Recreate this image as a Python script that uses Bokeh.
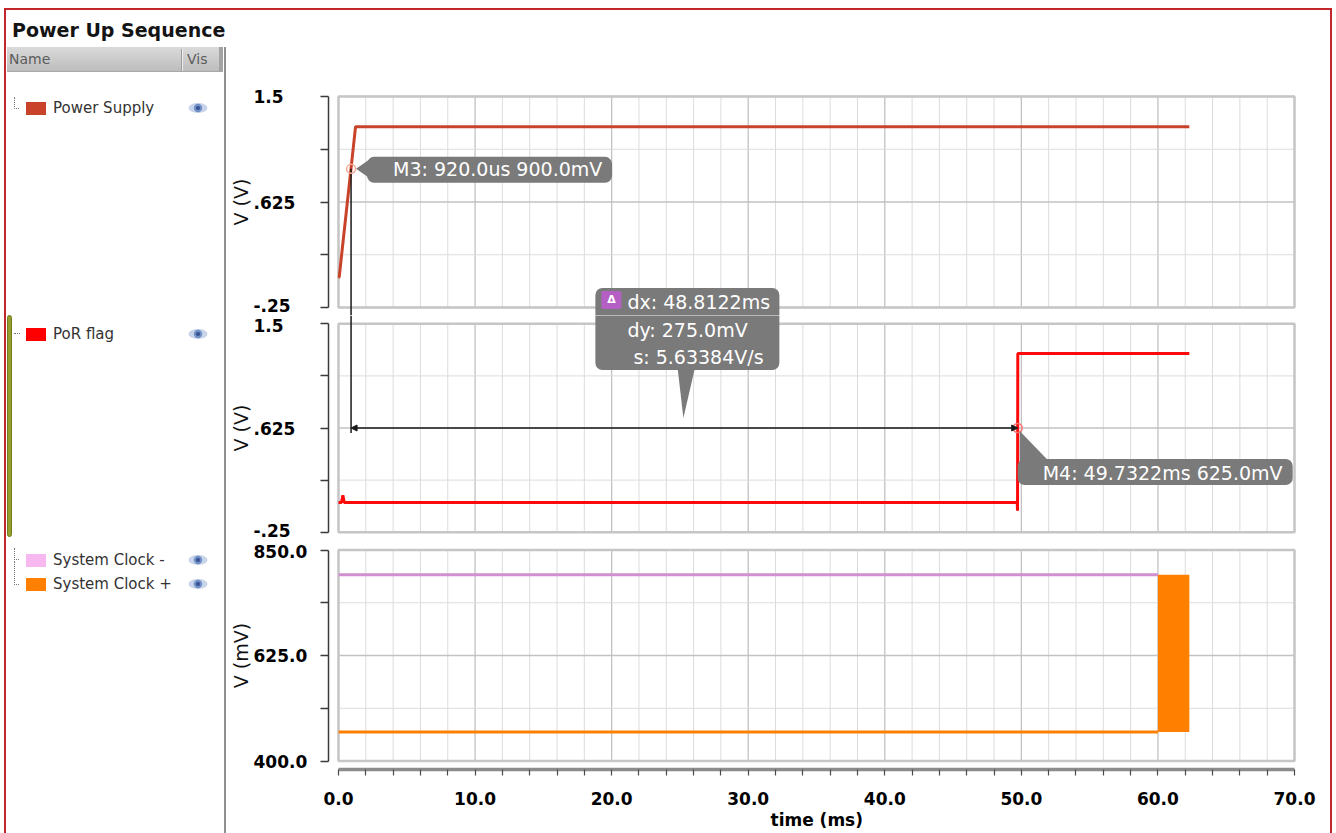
from bokeh.plotting import figure
from bokeh.models import (Range1d, FixedTicker, Label, BoxAnnotation, Arrow,
                          NormalHead, Div, Title)
from bokeh.layouts import row, column
from bokeh.embed import file_html
from bokeh.resources import INLINE

# ---------------- waveform data (time in ms) ----------------
supply_t = [0.0, 0.05, 1.25, 62.3]
supply_v = [0.0, 0.0, 1.25, 1.25]

por_t = [0.0, 0.22, 0.32, 0.42, 49.70, 49.72, 49.74, 62.3]
por_v = [0.0, 0.0, 0.06, 0.0, 0.0, -0.07, 1.25, 1.25]

clk_n_t = [0.0, 60.0]
clk_n_mv = [797.0, 797.0]
clk_p_t = [0.0, 60.0]
clk_p_mv = [462.0, 462.0]
# differential clock running: drawn as its swing envelope
burst_t = [60.0, 62.3]
burst_lo_mv = [462.0, 462.0]
burst_hi_mv = [797.0, 797.0]

# markers
m3_t, m3_v = 0.92, 0.900      # ms, V
m4_t, m4_v = 49.7322, 0.625   # ms, V

# ticks
grid_t = list(range(0, 71, 2))
x_tick_vals = [0, 10, 20, 30, 40, 50, 60, 70]
x_tick_labels = ["0.0", "10.0", "20.0", "30.0", "40.0", "50.0", "60.0", "70.0"]

v_ticks = [-0.25, 0.1875, 0.625, 1.0625, 1.5]
v_tick_vals = [-0.25, 0.625, 1.5]
v_tick_labels = ["-.25", ".625", "1.5"]

mv_ticks = [400.0, 512.5, 625.0, 737.5, 850.0]
mv_tick_vals = [400.0, 625.0, 850.0]
mv_tick_labels = ["400.0", "625.0", "850.0"]

legend_names = ["Power Supply", "PoR flag", "System Clock -", "System Clock +"]
legend_colors = ["#c8432a", "#ff0000", "#f7b7ef", "#ff8000"]

SUPPLY_COLOR = "#c8432a"
POR_COLOR = "#ff0a0a"
CLKN_COLOR = "#d08fce"
CLKP_COLOR = "#ff8000"
CALLOUT = "#7a7a7a"
FONT = "DejaVu Sans"

# ---------------- layout geometry ----------------
PX_PER_MS = 956.0 / 70.0
FIG_W, BORDER_L, BORDER_R = 1104, 2, 34
ZERO_PX = 110.0          # frame left edge to t = 0
AXIS_GAP_PX = 10.0       # y axis line to t = 0
X_START = -ZERO_PX / PX_PER_MS
X_END = X_START + (FIG_W - BORDER_L - BORDER_R) / PX_PER_MS
AXIS_X = -AXIS_GAP_PX / PX_PER_MS
T_END = 70.0


def dx(px):
    return px / PX_PER_MS


class Panel:
    def __init__(self, vmin, vmax, frame_top, pad_top, span, pad_bot,
                 ticks, tick_vals, tick_labels, title, nudge):
        self.vmin, self.vmax = vmin, vmax
        self.frame_top, self.pad_top = frame_top, pad_top
        self.ticks, self.tick_vals, self.tick_labels = ticks, tick_vals, tick_labels
        self.title = title
        self.nudge = nudge        # pixel shift of the (top, bottom) tick labels
        self.k = span / (vmax - vmin)
        self.y0 = vmin - pad_bot / self.k
        self.y1 = vmax + pad_top / self.k
        self.frame_h = int(round(pad_top + span + pad_bot))

    def page_y(self, v):
        return self.frame_top + self.pad_top + (self.vmax - v) * self.k

    def value(self, page_y):
        return self.vmax - (page_y - self.frame_top - self.pad_top) / self.k

    def dy(self, px):
        return px / self.k


P1 = Panel(-0.25, 1.5, 80.0, 16.0, 211.0, 8.0, v_ticks, v_tick_vals, v_tick_labels,
           "V (V)", (0, 2))
P2 = Panel(-0.25, 1.5, 315.0, 8.3, 208.4, 8.3, v_ticks, v_tick_vals, v_tick_labels,
           "V (V)", (-2, 2))
P3 = Panel(400.0, 850.0, 540.0, 9.5, 211.0, 8.5, mv_ticks, mv_tick_vals, mv_tick_labels,
           "V (mV)", (-1, 0))


def make_panel(pn, border_top, border_bottom, x_axis):
    p = figure(width=FIG_W, height=border_top + pn.frame_h + border_bottom,
               x_range=Range1d(X_START, X_END), y_range=Range1d(pn.y0, pn.y1),
               output_backend="svg", toolbar_location=None,
               x_axis_location="below" if x_axis else None, y_axis_location="left",
               min_border_left=BORDER_L, min_border_right=BORDER_R,
               min_border_top=border_top, min_border_bottom=border_bottom,
               outline_line_color=None, background_fill_color="white",
               border_fill_color="white")
    p.grid.visible = False

    ya = p.yaxis[0]
    ya.fixed_location = AXIS_X
    ya.ticker = FixedTicker(ticks=pn.ticks)
    ya.bounds = (pn.vmin, pn.vmax)
    ya.major_label_overrides = {float(t): "" for t in pn.ticks}
    ya.axis_line_color = "#3a3a3a"
    ya.axis_line_width = 1.5
    ya.major_tick_line_color = "#3a3a3a"
    ya.major_tick_line_width = 1.5
    ya.major_tick_out = 8
    ya.major_tick_in = 0
    ya.minor_tick_line_color = None

    # grid box
    minor_t = [t for t in grid_t if t not in x_tick_vals]
    p.segment(x0=minor_t, y0=[pn.vmin] * len(minor_t), x1=minor_t, y1=[pn.vmax] * len(minor_t),
              line_color="#dcdcdc", line_width=1)
    p.segment(x0=x_tick_vals, y0=[pn.vmin] * len(x_tick_vals), x1=x_tick_vals,
              y1=[pn.vmax] * len(x_tick_vals), line_color="#c2c2c2", line_width=1.3)
    minor_v = [v for v in pn.ticks if v not in pn.tick_vals]
    p.segment(x0=[0] * len(minor_v), y0=minor_v, x1=[T_END] * len(minor_v), y1=minor_v,
              line_color="#dcdcdc", line_width=1)
    p.segment(x0=[0] * len(pn.tick_vals), y0=pn.tick_vals, x1=[T_END] * len(pn.tick_vals),
              y1=pn.tick_vals, line_color="#c2c2c2", line_width=1.3)
    p.quad(left=[0], right=[T_END], bottom=[pn.vmin], top=[pn.vmax], fill_color=None,
           line_color="#c6c6c6", line_width=2.5)

    # left-aligned tick labels and rotated axis title
    for v, s in zip(pn.tick_vals, pn.tick_labels):
        yo = pn.nudge[0] if v == pn.vmax else (pn.nudge[1] if v == pn.vmin else 0)
        p.add_layout(Label(x=AXIS_X, y=v, x_offset=-75, y_offset=yo, text=s, text_align="left",
                           text_baseline="middle", text_font=FONT, text_font_size="17px",
                           text_font_style="bold", text_color="#000000"))
    p.add_layout(Label(x=AXIS_X, y=(pn.vmin + pn.vmax) / 2, x_offset=-88, text=pn.title,
                       angle=90, angle_units="deg", text_align="center",
                       text_baseline="middle", text_font=FONT, text_font_size="19px",
                       text_color="#111111"))
    return p


p1 = make_panel(P1, 70, 0, False)
p2 = make_panel(P2, 0, 0, False)
p3 = make_panel(P3, 0, 69, True)

# time axis
xa = p3.xaxis[0]
xa.ticker = FixedTicker(ticks=grid_t)
xa.bounds = (0, T_END)
ov = {float(t): "" for t in grid_t}
ov.update({float(v): s for v, s in zip(x_tick_vals, x_tick_labels)})
xa.major_label_overrides = ov
xa.axis_line_color = "#8c8c8c"
xa.axis_line_width = 3.5
xa.major_tick_line_color = "#4a4a4a"
xa.major_tick_line_width = 1.2
xa.major_tick_out = 6
xa.major_tick_in = 0
xa.minor_tick_line_color = None
xa.major_label_standoff = 16
xa.major_label_text_font = FONT
xa.major_label_text_font_size = "17px"
xa.major_label_text_font_style = "bold"
xa.major_label_text_color = "#000000"

# axis title centred under the 0-70 ms span (not under the whole frame)
TIME_TITLE_W = 92
p3.add_layout(Title(text="time (ms)", align="left",
                    offset=ZERO_PX + T_END / 2 * PX_PER_MS - TIME_TITLE_W / 2,
                    standoff=0, text_font=FONT, text_font_size="17px",
                    text_font_style="bold", text_color="#000000"), "below")

# ---------------- waveforms ----------------
p1.line(supply_t, supply_v, line_color=SUPPLY_COLOR, line_width=3)
p2.line(por_t, por_v, line_color=POR_COLOR, line_width=3)
p3.line(clk_n_t, clk_n_mv, line_color=CLKN_COLOR, line_width=3)
p3.line(clk_p_t, clk_p_mv, line_color=CLKP_COLOR, line_width=3)
p3.varea(x=burst_t, y1=burst_lo_mv, y2=burst_hi_mv, fill_color=CLKP_COLOR)

# ---------------- markers & delta measurement ----------------
delta_t = m4_t - m3_t
delta_v = m3_v - m4_v
slope = delta_v / (delta_t / 1000.0)
m3_text = f"M3: {m3_t * 1000:.1f}us {m3_v * 1000:.1f}mV"
m4_text = f"M4: {m4_t:.4f}ms {m4_v * 1000:.1f}mV"
dx_text = f"dx: {delta_t:.4f}ms"
dy_text = f"dy: {delta_v * 1000:.1f}mV"
s_text = f"s: {slope:.5f}V/s"


def text_at(p, x, y, text, xo, yo, size="19px", align="left", style="normal"):
    p.add_layout(Label(x=x, y=y, x_offset=xo, y_offset=yo, text=text, text_color="white",
                       text_font=FONT, text_font_size=size, text_font_style=style,
                       text_align=align, text_baseline="middle"))


def box_at(p, pn, x, y, l, r, t, b, radius=7, color=CALLOUT):
    # l/r: pixels right of x, t/b: pixels above y
    p.add_layout(BoxAnnotation(left=x + dx(l), right=x + dx(r), top=y + pn.dy(t),
                               bottom=y + pn.dy(b), fill_color=color, fill_alpha=1.0,
                               line_color=None, border_radius=radius))


def pointer(p, pn, x, y, pts):
    p.patch(x=[x + dx(a) for a, _ in pts], y=[y + pn.dy(b) for _, b in pts],
            fill_color=CALLOUT, line_color=None)


# vertical leg of the delta line, spanning both panels
p1.segment(x0=[m3_t], y0=[m3_v], x1=[m3_t], y1=[P1.y0], line_color="#1a1a1a", line_width=1.5)
p2.segment(x0=[m3_t], y0=[P2.y1], x1=[m3_t], y1=[m4_v - P2.dy(5)], line_color="#1a1a1a",
           line_width=1.5)
p2.add_layout(Arrow(start=NormalHead(size=6, fill_color="#1a1a1a", line_color="#1a1a1a"),
                    end=NormalHead(size=6, fill_color="#1a1a1a", line_color="#1a1a1a"),
                    x_start=m3_t, y_start=m4_v, x_end=m4_t, y_end=m4_v,
                    line_color="#1a1a1a", line_width=1.5))

# M3 callout
p1.scatter([m3_t], [m3_v], size=9, fill_color=None, line_color="#f4a896", line_width=1.5)
pointer(p1, P1, m3_t, m3_v, [(5, 0), (18, 9), (18, -9)])
box_at(p1, P1, m3_t, m3_v, 16, 261, 12, -14)
text_at(p1, m3_t, m3_v, m3_text, 42, 0)

# M4 callout
p2.scatter([m4_t], [m4_v], size=9, fill_color=None, line_color="#ff7070", line_width=1.5)
pointer(p2, P2, m4_t, m4_v, [(2, -3), (31, -33), (2, -33)])
box_at(p2, P2, m4_t, m4_v, 0, 275, -31, -57)
text_at(p2, m4_t, m4_v, m4_text, 25, -45)

# delta callout (box straddles panels 1 and 2)
mid_t = (m3_t + m4_t) / 2
anchor_page_y = P2.page_y(m4_v)
for p, pn in ((p1, P1), (p2, P2)):
    ay = pn.value(anchor_page_y)
    box_at(p, pn, mid_t, ay, -89, 95, 140, 58)
p2_ay = m4_v
pointer(p2, P2, mid_t, p2_ay, [(-1, 10), (-7, 62), (11, 62)])
text_at(p2, mid_t, p2_ay, dy_text, -57, 98)
text_at(p2, mid_t, p2_ay, s_text, -51, 71)
p1_ay = P1.value(anchor_page_y)
box_at(p1, P1, mid_t, p1_ay, -83, -63, 137, 119, radius=2, color="#b45fc3")
text_at(p1, mid_t, p1_ay, "\u0394", -73, 129, size="11px", align="center", style="bold")
text_at(p1, mid_t, p1_ay, dx_text, -57, 126)

# ---------------- signal list pane ----------------
EYE = ('<svg style="position:absolute;left:{l}px;top:{t}px" width="20" height="12" '
       'viewBox="0 0 20 12"><ellipse cx="10" cy="6" rx="9.5" ry="5" fill="#c8d4ea"/>'
       '<circle cx="10" cy="6" r="4.2" fill="#7090c6"/><circle cx="10" cy="6" r="2" '
       'fill="#34508e"/></svg>')


def abs_div(style, inner=""):
    return f'<div style="position:absolute;{style}">{inner}</div>'


DOT = "1px dotted #777"
row_centers = [98, 324, 550, 574]
parts = [
    abs_div("left:6px;top:9px;font:bold 19px/22px 'DejaVu Sans';color:#141414;white-space:nowrap",
            "Power Up Sequence"),
    abs_div("left:1px;top:37px;width:216px;height:25px;overflow:hidden;"
            "background:linear-gradient(#dadada,#bdbdbd);border-bottom:1px solid #a8a8a8",
            abs_div("left:2px;top:0;font:14px/25px 'DejaVu Sans';color:#5c5c5c", "Name")
            + abs_div("left:174px;top:2px;width:1px;height:22px;background:#9c9c9c")
            + abs_div("left:175px;top:2px;width:1px;height:22px;background:#ededed")
            + abs_div("left:180px;top:0;font:14px/25px 'DejaVu Sans';color:#5c5c5c", "Vis")
            + abs_div("left:212px;top:0;width:4px;height:25px;background:#a3a3a3")),
    abs_div("left:218px;top:37px;width:2px;height:800px;background:#909090"),
    abs_div("left:1px;top:305px;width:5px;height:222px;background:#959d2c;"
            "border:1px solid #717b1f;border-radius:4px"),
    # tree connectors
    abs_div(f"left:8px;top:{row_centers[0] - 11}px;width:5px;height:12px;"
            f"border-left:{DOT};border-bottom:{DOT}"),
    abs_div(f"left:8px;top:{row_centers[1] - 1}px;width:6px;height:1px;border-top:{DOT}"),
    abs_div(f"left:8px;top:{row_centers[2] - 12}px;width:5px;height:12px;"
            f"border-left:{DOT};border-bottom:{DOT}"),
    abs_div(f"left:8px;top:{row_centers[2] + 1}px;width:5px;height:{row_centers[3] - row_centers[2]}px;"
            f"border-left:{DOT};border-bottom:{DOT}"),
]
for name, color, cy in zip(legend_names, legend_colors, row_centers):
    parts.append(abs_div(f"left:20px;top:{cy - 6}px;width:20px;height:13px;background:{color}"))
    parts.append(abs_div(f"left:47px;top:{cy - 10}px;font:15px/20px 'DejaVu Sans';color:#333;"
                         "white-space:nowrap", name))
    parts.append(EYE.format(l=182, t=cy - 6))

pane_html = ('<div style="position:relative;width:220px;height:828px;'
             "font-family:'DejaVu Sans'\">" + "".join(parts) + "</div>")
pane = Div(text=pane_html, width=220, height=828, margin=0, styles={"overflow": "visible"})

plots = column(p1, p2, p3, spacing=0)
root = row(pane, plots, spacing=0,
           styles={"position": "absolute", "left": "6px", "top": "10px",
                   "outline": "2px solid #c4262e", "background": "white"})

open("out.html", "w").write(file_html(root, INLINE, title="Power Up Sequence"))
